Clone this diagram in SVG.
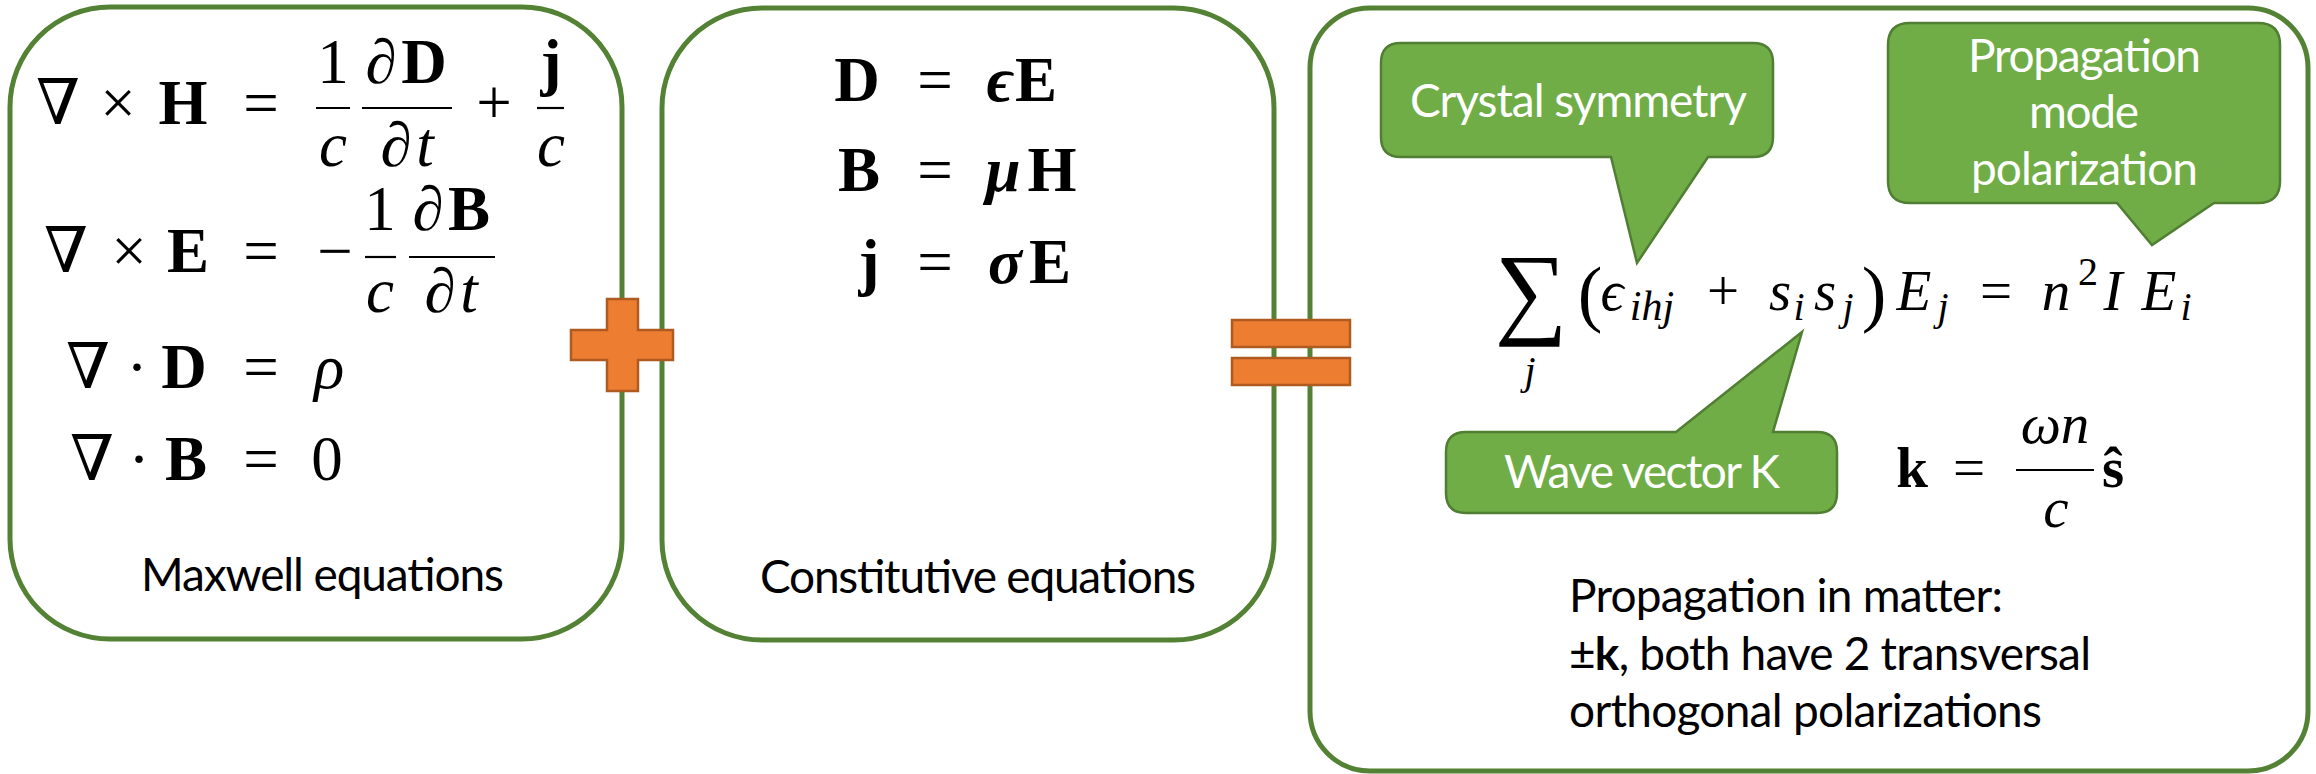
<svg xmlns="http://www.w3.org/2000/svg" width="2316" height="774" viewBox="0 0 2316 774">
<defs>
<style>
.box{fill:#fff;stroke:#548235;stroke-width:5}
.call{fill:#70AD47;stroke:#507E32;stroke-width:2.5;stroke-linejoin:miter}
.op{fill:#ED7D31;stroke:#AE5A21;stroke-width:2.5}
.t{font-family:Lato,'Open Sans','Liberation Sans',sans-serif;font-size:46px;fill:#000}
.w{fill:#fff}
.m{font-family:'Liberation Serif','DejaVu Serif',serif;font-size:63px;fill:#000;text-anchor:middle}
.s{font-size:57px}
.sub{font-size:40px}
.b{font-weight:bold}
.i{font-style:italic}
.bar{stroke:#000;stroke-width:2.2}
</style>
</defs>
<rect width="2316" height="774" fill="#fff"/>

<g id="maxwell">
<rect class="box" x="10" y="7" width="612" height="632" rx="100" ry="100"/>
<!-- row 1 -->
<text class="m" x="58" y="124">∇</text>
<text class="m" x="118" y="124">×</text>
<text class="m b" x="183" y="124">H</text>
<text class="m" x="261" y="124">=</text>
<text class="m" x="333" y="83">1</text>
<line class="bar" x1="316" y1="108" x2="350" y2="108"/>
<text class="m i" x="333" y="166">c</text>
<text class="m" x="381" y="83">∂</text>
<text class="m b" x="424" y="83">D</text>
<line class="bar" x1="362" y1="108" x2="452" y2="108"/>
<text class="m" x="396" y="166">∂</text>
<text class="m i" x="425" y="166">t</text>
<text class="m" x="494" y="124">+</text>
<text class="m b" x="551" y="83">j</text>
<line class="bar" x1="537" y1="108" x2="564" y2="108"/>
<text class="m i" x="551" y="166">c</text>
<!-- row 2 -->
<text class="m" x="66" y="272">∇</text>
<text class="m" x="129" y="272">×</text>
<text class="m b" x="188" y="272">E</text>
<text class="m" x="261" y="272">=</text>
<text class="m" x="335" y="272">−</text>
<text class="m" x="380" y="230">1</text>
<line class="bar" x1="365" y1="257" x2="396" y2="257"/>
<text class="m i" x="380" y="312">c</text>
<text class="m" x="428" y="230">∂</text>
<text class="m b" x="469" y="230">B</text>
<line class="bar" x1="409" y1="257" x2="495" y2="257"/>
<text class="m" x="440" y="312">∂</text>
<text class="m i" x="469" y="312">t</text>
<!-- row 3 -->
<text class="m" x="88" y="388">∇</text>
<text class="m" x="137" y="388">·</text>
<text class="m b" x="184" y="388">D</text>
<text class="m" x="261" y="388">=</text>
<text class="m i" x="329" y="388">ρ</text>
<!-- row 4 -->
<text class="m" x="92" y="480">∇</text>
<text class="m" x="139" y="480">·</text>
<text class="m b" x="186" y="480">B</text>
<text class="m" x="261" y="480">=</text>
<text class="m" x="327" y="480">0</text>
<text class="t" x="141" y="591" textLength="363">Maxwell equations</text>
</g>

<g id="constitutive">
<rect class="box" x="662" y="8" width="612" height="632" rx="100" ry="100"/>
<text class="m b" x="857" y="101">D</text>
<text class="m" x="935" y="101">=</text>
<text class="m b i" x="1000" y="101">ϵ</text>
<text class="m b" x="1036" y="101">E</text>
<text class="m b" x="859" y="191">B</text>
<text class="m" x="935" y="191">=</text>
<text class="m b i" x="1003" y="191">μ</text>
<text class="m b" x="1052" y="191">H</text>
<text class="m b" x="869" y="283">j</text>
<text class="m" x="935" y="283">=</text>
<text class="m b i" x="1005" y="283">σ</text>
<text class="m b" x="1050" y="283">E</text>
<text class="t" x="760" y="593" textLength="436">Constitutive equations</text>
</g>

<g id="propagation">
<rect class="box" x="1310" y="8" width="998" height="763" rx="60" ry="60"/>
<!-- main equation -->
<text class="m" x="1531" y="325" style="font-size:102px">∑</text>
<text class="m i sub" x="1530" y="384">j</text>
<text class="m" x="1590" y="318" style="font-size:74px">(</text>
<text class="m i s" x="1612" y="310">ϵ</text>
<text class="m i sub" x="1652" y="320" style="font-size:42px">ihj</text>
<text class="m s" x="1723" y="310">+</text>
<text class="m i s" x="1780" y="310">s</text>
<text class="m i sub" x="1799" y="320">i</text>
<text class="m i s" x="1825" y="310">s</text>
<text class="m i sub" x="1848" y="320">j</text>
<text class="m" x="1874" y="318" style="font-size:74px">)</text>
<text class="m i s" x="1914" y="310">E</text>
<text class="m i sub" x="1943" y="320">j</text>
<text class="m s" x="1996" y="310">=</text>
<text class="m i s" x="2056" y="310">n</text>
<text class="m sub" x="2088" y="285">2</text>
<text class="m i s" x="2113" y="310">I</text>
<text class="m i s" x="2159" y="310">E</text>
<text class="m i sub" x="2186" y="320">i</text>
<!-- k equation -->
<text class="m b s" x="1912" y="487">k</text>
<text class="m s" x="1969" y="487">=</text>
<text class="m i s" x="2055" y="443">ωn</text>
<line class="bar" x1="2016" y1="470" x2="2094" y2="470"/>
<text class="m i s" x="2056" y="527">c</text>
<text class="m b s" x="2113" y="487">ŝ</text>
<text class="t" x="1569" y="612" textLength="434">Propagation in matter:</text>
<text class="t" x="1569" y="670" textLength="522">±<tspan font-weight="bold">k</tspan>, both have 2 transversal</text>
<text class="t" x="1569" y="727" textLength="473">orthogonal polarizations</text>
</g>

<g id="callout-crystal">
<path class="call" d="M1401,43 H1753 Q1773,43 1773,63 V137 Q1773,157 1753,157 H1708 L1637,263 L1611,157 H1401 Q1381,157 1381,137 V63 Q1381,43 1401,43 Z"/>
<text class="t w" x="1410" y="117" textLength="337">Crystal symmetry</text>
</g>

<g id="callout-mode">
<path class="call" d="M1910,23 H2258 Q2280,23 2280,45 V181 Q2280,203 2258,203 H2214 L2152,245 L2117,203 H1910 Q1888,203 1888,181 V45 Q1888,23 1910,23 Z"/>
<text class="t w" x="1968" y="72" textLength="233">Propagation</text>
<text class="t w" x="2029" y="128" textLength="110">mode</text>
<text class="t w" x="1971" y="185" textLength="227">polarization</text>
</g>

<g id="callout-wave">
<path class="call" d="M1466,432 H1676 L1802,332 L1773,432 H1817 Q1837,432 1837,452 V493 Q1837,513 1817,513 H1466 Q1446,513 1446,493 V452 Q1446,432 1466,432 Z"/>
<text class="t w" x="1504" y="488" textLength="276">Wave vector K</text>
</g>

<g id="plus">
<path class="op" d="M607,299 H638 V330 H673 V360 H638 V391 H607 V360 H571 V330 H607 Z"/>
</g>

<g id="equals">
<rect class="op" x="1232" y="320" width="118" height="27"/>
<rect class="op" x="1232" y="358" width="118" height="27"/>
</g>

<g id="connectors"/>
</svg>
